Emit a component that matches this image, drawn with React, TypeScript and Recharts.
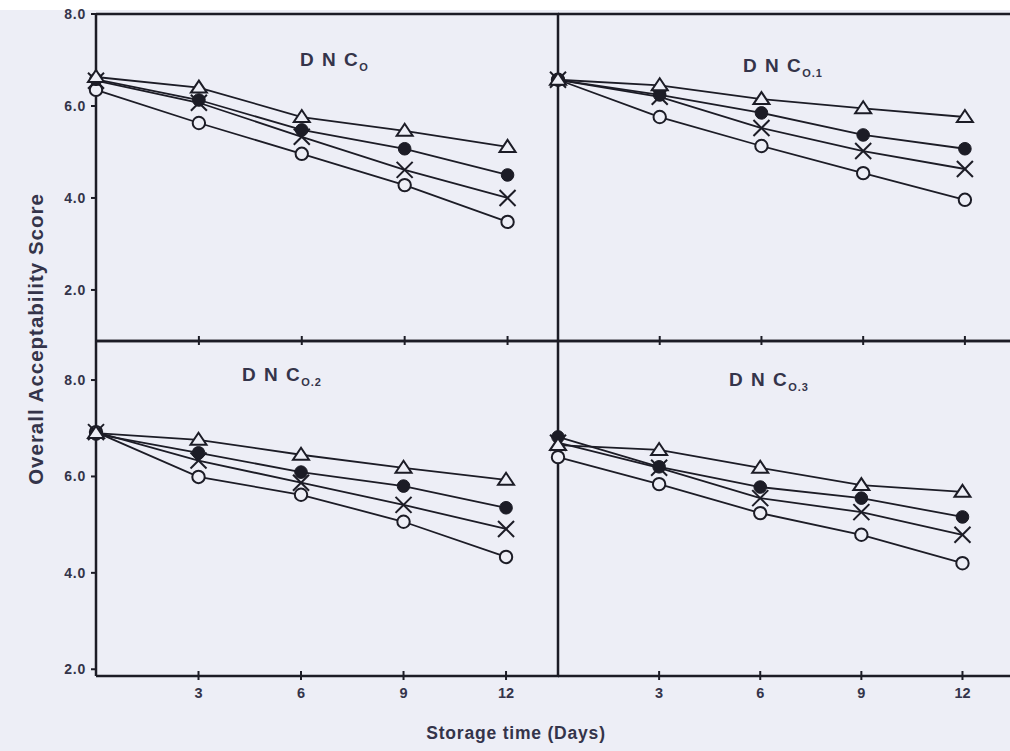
import React from 'react';
import { LineChart, Line, XAxis, YAxis } from 'recharts';

const days = [0, 3, 6, 9, 12];
const xTicks = [3, 6, 9, 12];
const yTicks = [2, 4, 6, 8];

// DNC O
const dnc0Triangle = [6.63, 6.4, 5.76, 5.46, 5.11];
const dnc0Filled = [6.58, 6.13, 5.48, 5.07, 4.5];
const dnc0Cross = [6.55, 6.07, 5.33, 4.61, 4.0];
const dnc0Open = [6.35, 5.63, 4.96, 4.28, 3.48];

// DNC O.1
const dnc1Triangle = [6.57, 6.45, 6.15, 5.95, 5.76];
const dnc1Filled = [6.57, 6.24, 5.85, 5.37, 5.07];
const dnc1Cross = [6.57, 6.2, 5.52, 5.02, 4.63];
const dnc1Open = [6.57, 5.76, 5.13, 4.54, 3.96];

// DNC O.2
const dnc2Triangle = [6.9, 6.76, 6.45, 6.18, 5.93];
const dnc2Filled = [6.88, 6.49, 6.09, 5.8, 5.35];
const dnc2Cross = [6.92, 6.33, 5.87, 5.41, 4.91];
const dnc2Open = [6.92, 5.99, 5.62, 5.06, 4.33];

// DNC O.3
const dnc3Triangle = [6.65, 6.55, 6.18, 5.82, 5.68];
const dnc3Filled = [6.82, 6.2, 5.78, 5.55, 5.16];
const dnc3Cross = [6.7, 6.18, 5.55, 5.26, 4.79];
const dnc3Open = [6.4, 5.84, 5.24, 4.79, 4.2];

const panelSubscripts = ['O', 'O.1', 'O.2', 'O.3'];

const BG = '#edeef6';
const INK = '#1c1c26';
const TXT = '#34344a';
const FONT = '"Liberation Sans", Arial, Helvetica, sans-serif';

const build = (tri: number[], fil: number[], crs: number[], opn: number[]) =>
  days.map((d, i) => ({ day: d, tri: tri[i], fil: fil[i], crs: crs[i], opn: opn[i] }));

const TriDot = (p: any) => {
  const { cx, cy, index } = p;
  if (cx == null || cy == null) return <g key={`t${index}`} />;
  return (
    <polygon
      key={`t${index}`}
      points={`${cx},${cy - 7} ${cx - 8},${cy + 5} ${cx + 8},${cy + 5}`}
      fill={BG}
      stroke={INK}
      strokeWidth={2}
    />
  );
};
const FilledDot = (p: any) => {
  const { cx, cy, index } = p;
  if (cx == null || cy == null) return <g key={`f${index}`} />;
  return <circle key={`f${index}`} cx={cx} cy={cy} r={6.3} fill={INK} stroke={INK} strokeWidth={1} />;
};
const CrossDot = (p: any) => {
  const { cx, cy, index } = p;
  if (cx == null || cy == null) return <g key={`c${index}`} />;
  return (
    <g key={`c${index}`} stroke={INK} strokeWidth={2}>
      <line x1={cx - 8} y1={cy - 8} x2={cx + 8} y2={cy + 8} />
      <line x1={cx - 8} y1={cy + 8} x2={cx + 8} y2={cy - 8} />
    </g>
  );
};
const OpenDot = (p: any) => {
  const { cx, cy, index } = p;
  if (cx == null || cy == null) return <g key={`o${index}`} />;
  return <circle key={`o${index}`} cx={cx} cy={cy} r={6.2} fill={BG} stroke={INK} strokeWidth={2} />;
};

const MidTick = (p: any) => {
  const { x, y } = p;
  return <line x1={x} y1={y - 5} x2={x} y2={y + 4} stroke={INK} strokeWidth={2} />;
};
const BottomTick = (p: any) => {
  const { x, y, payload } = p;
  return (
    <g>
      <line x1={x} y1={y - 5} x2={x} y2={y + 4} stroke={INK} strokeWidth={2} />
      <text x={x} y={y + 22} textAnchor="middle" fill={TXT} fontFamily={FONT} fontWeight="bold" fontSize={14.5}>
        {payload.value}
      </text>
    </g>
  );
};
const YTick = (p: any) => {
  const { x, y, payload } = p;
  return (
    <g>
      <line x1={x - 5} y1={y} x2={x} y2={y} stroke={INK} strokeWidth={2} />
      <text x={x - 10} y={y + 5} textAnchor="end" fill={TXT} fontFamily={FONT} fontWeight="bold" fontSize={14} letterSpacing={0.8}>
        {Number(payload.value).toFixed(1)}
      </text>
    </g>
  );
};

type PanelProps = {
  data: any[];
  x0: number; y0: number; x1: number; y1: number;
  xMax: number;
  yDomain: [number, number];
  leftTicks: boolean;
  bottomLabels: boolean;
};

const W = 1010;
const H = 751;

const Panel = ({ data, x0, y0, x1, y1, xMax, yDomain, leftTicks, bottomLabels }: PanelProps) => {
  const yW = 40;
  const topH = 10;
  const botH = 30;
  const margin = { top: y0 - topH, left: x0 - yW, right: W - x1, bottom: H - y1 - botH };
  return (
    <div style={{ position: 'absolute', left: 0, top: 0, width: W, height: H }}>
      <LineChart width={W} height={H} margin={margin} data={data}>
        <XAxis
          xAxisId="b"
          dataKey="day"
          type="number"
          domain={[0, xMax]}
          ticks={xTicks}
          orientation="bottom"
          height={botH}
          tickSize={0}
          tickMargin={0}
          tickLine={false}
          axisLine={{ stroke: INK, strokeWidth: 2.5 }}
          tick={bottomLabels ? <BottomTick /> : <MidTick />}
          interval={0}
        />
        <XAxis
          xAxisId="t"
          dataKey="day"
          type="number"
          domain={[0, xMax]}
          orientation="top"
          height={topH}
          tick={false}
          tickLine={false}
          axisLine={{ stroke: INK, strokeWidth: 2.5 }}
        />
        <YAxis
          type="number"
          domain={yDomain}
          ticks={yTicks}
          width={yW}
          tickSize={0}
          tickMargin={0}
          tickLine={false}
          axisLine={{ stroke: INK, strokeWidth: 2.5 }}
          tick={leftTicks ? <YTick /> : false}
          interval={0}
        />
        <Line xAxisId="b" dataKey="opn" stroke={INK} strokeWidth={1.8} dot={OpenDot} isAnimationActive={false} />
        <Line xAxisId="b" dataKey="crs" stroke={INK} strokeWidth={1.8} dot={CrossDot} isAnimationActive={false} />
        <Line xAxisId="b" dataKey="fil" stroke={INK} strokeWidth={1.8} dot={FilledDot} isAnimationActive={false} />
        <Line xAxisId="b" dataKey="tri" stroke={INK} strokeWidth={1.8} dot={TriDot} isAnimationActive={false} />
      </LineChart>
    </div>
  );
};

const Title = ({ x, y, sub }: { x: number; y: number; sub: string }) => (
  <text x={x} y={y} fill={TXT} fontFamily={FONT} fontWeight="bold" fontSize={19} letterSpacing={1.5}>
    D N C
    <tspan fontSize={11} dy={5} letterSpacing={1}>{sub}</tspan>
  </text>
);

export default function App() {
  const topY: [number, number] = [0.89, 8.0];
  const botY: [number, number] = [1.86, 8.81];
  return (
    <div style={{ position: 'absolute', left: 0, top: 0, width: W, height: H, background: BG, overflow: 'hidden' }}>
      <div style={{ position: 'absolute', left: 0, top: 0, width: W, height: 10, background: '#ffffff' }} />
      <Panel data={build(dnc0Triangle, dnc0Filled, dnc0Cross, dnc0Open)} x0={96} y0={14} x1={559} y1={341} xMax={13.5} yDomain={topY} leftTicks bottomLabels={false} />
      <Panel data={build(dnc1Triangle, dnc1Filled, dnc1Cross, dnc1Open)} x0={558} y0={14} x1={1010} y1={341} xMax={13.33} yDomain={topY} leftTicks={false} bottomLabels={false} />
      <Panel data={build(dnc2Triangle, dnc2Filled, dnc2Cross, dnc2Open)} x0={96} y0={341} x1={559} y1={676} xMax={13.55} yDomain={botY} leftTicks bottomLabels />
      <Panel data={build(dnc3Triangle, dnc3Filled, dnc3Cross, dnc3Open)} x0={558} y0={341} x1={1010} y1={676} xMax={13.41} yDomain={botY} leftTicks={false} bottomLabels />
      <svg width={W} height={H} style={{ position: 'absolute', left: 0, top: 0, pointerEvents: 'none' }}>
        <Title x={300} y={66} sub={panelSubscripts[0]} />
        <Title x={743} y={72} sub={panelSubscripts[1]} />
        <Title x={242} y={381} sub={panelSubscripts[2]} />
        <Title x={729} y={386} sub={panelSubscripts[3]} />
        <text x={35} y={339} transform="rotate(-90 35 339)" textAnchor="middle" dominantBaseline="central" fill={TXT} fontFamily={FONT} fontWeight="bold" fontSize={20.5} letterSpacing={1}>
          Overall Acceptability Score
        </text>
        <text x={516} y={739} textAnchor="middle" fill={TXT} fontFamily={FONT} fontWeight="bold" fontSize={17.5} letterSpacing={0.8}>
          Storage time (Days)
        </text>
      </svg>
    </div>
  );
}
